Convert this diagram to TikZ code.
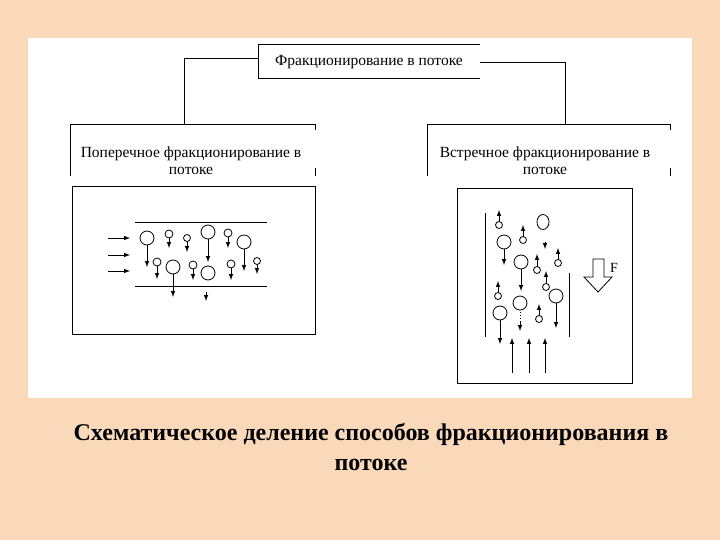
\documentclass[tikz,border=0pt]{standalone}
\usepackage{fontspec}
\setmainfont{Liberation Serif}
\definecolor{peach}{HTML}{FAD9BA}
\begin{document}
\begin{tikzpicture}[x=1pt,y=-1pt,
 ln/.style={line width=0.8pt},
 arr/.style={line width=1pt,-latex},
 lbl/.style={font=\fontsize{15.5}{17}\selectfont,align=center,inner sep=0pt},
 part/.style={draw,line width=0.8pt,circle,inner sep=0pt,fill=white}]
\fill[peach] (0,0) rectangle (720,540);
\useasboundingbox (0,0) rectangle (720,540);
\fill[white] (28,38) rectangle (692,398);
% top box
\node[lbl] (top) at (369,62) {Фракционирование в потоке};
\draw[ln] (480,44) -- (258,44) -- (258,78) -- (480,78);
\coordinate (tl) at (258,58); \coordinate (tr) at (480,62);
\coordinate (lc) at (184,124); \coordinate (rc) at (565,124);
\draw[ln] (tl) -| (lc);
\draw[ln] (tr) -| (rc);
% left box
\node[lbl] (lb) at (191,161) {Поперечное фракционирование в\\потоке};
\draw[ln] (70,176) -- (70,124) -- (315,124) -- (315,130);
\draw[ln] (315,168) -- (315,176);
% right box
\node[lbl] (rb) at (545,161) {Встречное фракционирование в\\потоке};
\draw[ln] (427,176) -- (427,124) -- (670,124) -- (670,130);
\draw[ln] (670,168) -- (670,176);
% left schematic
\draw[ln] (72,186) rectangle (315,334);
\draw[ln] (135,222) -- (267,222);
\draw[ln] (135,286) -- (267,286);
\foreach \y in {238,255,271} \draw[arr] (108,\y) -- (130,\y);
\foreach \x/\y/\r/\e in {147/238/7/267,169/234/4/248,187/238/3.5/252,208/232/7/262,228/233/4/248,244/242/7/271,
157/262/4/279,173/267/7/297,193/265/4/280,231/264/4/280,257/261/3.5/274}{
 \draw[arr] (\x,\y) -- (\x,\e);
 \node[part,minimum size=2*\r pt] at (\x,\y) {};}
\node[part,minimum size=14pt] at (208,273) {};
\draw[arr] (206,292) -- (206,301);
% right schematic
\draw[ln] (457,188) rectangle (632,383);
\draw[ln] (485,213) -- (485,337);
\draw[ln] (569,273) -- (569,337);
\foreach \x in {512,529,545} \draw[arr] (\x,373) -- (\x,338);
% sinking big particles
\foreach \x/\y/\e in {504/242/265,521/262/291,500/313/344,556/296/328}{
 \draw[arr] (\x,\y) -- (\x,\e);
 \node[part,minimum size=14pt] at (\x,\y) {};}
\draw[line width=1pt,dotted] (520,303) -- (520,324);
\draw[arr] (520,322) -- (520,331);
\node[part,minimum size=14pt] at (520,303) {};
\draw[ln,fill=white] (543,222) ellipse [x radius=6, y radius=7.5];
\draw[arr] (545,242) -- (545,249);
% rising small particles
\foreach \x/\y/\e in {499/225/210,523/240/225,537/270/254,558/263/248,546/287/271,498/296/281,539/319/304}{
 \draw[arr] (\x,\y) -- (\x,\e);
 \node[part,minimum size=7pt] at (\x,\y) {};}
% big hollow arrow
\draw[line width=0.8pt,fill=white] (593,259) -- (604,259) -- (604,277) -- (612,277) -- (598,292) -- (584,277) -- (593,277) -- cycle;
\node[lbl,font=\fontsize{14}{15}\selectfont] (F) at (614,268) {F};
% caption
\node[font=\bfseries\fontsize{24}{30}\selectfont,align=center] (cap) at (371,447) {Схематическое деление способов фракционирования в\\потоке};
\end{tikzpicture}
\end{document}
